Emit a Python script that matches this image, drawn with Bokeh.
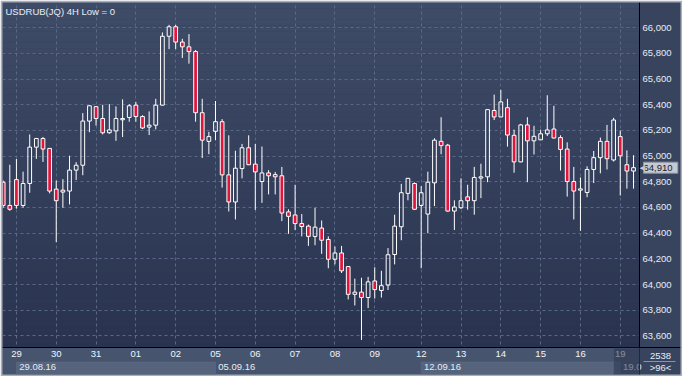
import numpy as np
from bokeh.plotting import figure
from bokeh.models import (Range1d, LinearAxis, FixedTicker, NumeralTickFormatter,
                          BoxAnnotation, Label, ColumnDataSource, Grid)
from bokeh.embed import file_html
from bokeh.resources import INLINE

# ---------------- data ----------------
chart_title = "USDRUB(JQ) 4H Low = 0"

opens = [64797, 64616, 64817, 64616, 64787, 65070, 65137, 65060, 64743, 64735,
         64728, 64891, 64929, 65273, 65385, 65293, 65182, 65196, 65283, 65301,
         65397, 65308, 65226, 65241, 65397, 65933, 66007, 65888, 65851, 65814,
         65338, 65115, 65193, 65268, 64854, 64643, 64903, 65065, 64938, 64802,
         64869, 64856, 64847, 64566, 64542, 64475, 64455, 64375, 64440, 64351,
         64197, 64246, 64140, 63924, 63941, 63899, 64028, 63954, 63996, 64234,
         64450, 64710, 64787, 64616, 64549, 64792, 65115, 65085, 64572, 64598,
         64683, 64653, 64829, 64839, 65355, 65305, 65377, 65162, 64955, 65243,
         65119, 65127, 65174, 65211, 65144, 65055, 64802, 64735, 64717, 64896,
         64988, 65115, 64970, 65152, 64933, 64884]
highs = [64810, 64933, 64978, 64879, 65169, 65142, 65149, 65063, 64810, 64821,
         65003, 64953, 65335, 65395, 65390, 65400, 65405, 65387, 65442, 65405,
         65422, 65318, 65348, 65446, 65963, 66022, 66022, 65913, 65950, 65826,
         65446, 65189, 65429, 65288, 65162, 65042, 65095, 65162, 65095, 65075,
         64891, 64877, 64916, 64586, 64777, 64549, 64467, 64598, 64499, 64375,
         64296, 64301, 64145, 64046, 64053, 64060, 64135, 64107, 64284, 64544,
         64784, 64830, 64795, 64767, 64879, 65139, 65303, 65095, 64656, 64827,
         64777, 64916, 64941, 65365, 65479, 65516, 65446, 65206, 65251, 65303,
         65236, 65206, 65474, 65392, 65162, 65107, 64916, 64834, 64921, 65040,
         65144, 65243, 65298, 65199, 65045, 65007]
lows = [64598, 64574, 64591, 64598, 64715, 64978, 64955, 64710, 64330, 64598,
        64624, 64814, 64851, 65186, 65238, 65169, 65174, 65119, 65149, 65268,
        65268, 65211, 65164, 65208, 65395, 65833, 65833, 65764, 65720, 65268,
        64985, 65015, 65124, 64755, 64569, 64507, 64827, 64930, 64581, 64636,
        64702, 64702, 64494, 64395, 64425, 64375, 64301, 64306, 64239, 64127,
        64157, 64090, 63884, 63837, 63569, 63817, 63891, 63899, 63958, 64157,
        64345, 64656, 64580, 64127, 64400, 64611, 65015, 64568, 64425, 64589,
        64583, 64544, 64673, 64797, 65281, 65303, 65074, 64871, 64952, 64797,
        65013, 65125, 65156, 65138, 64888, 64685, 64507, 64418, 64680, 64790,
        64866, 64896, 64958, 64693, 64747, 64747]
closes = [64616, 64586, 64616, 64787, 65070, 65137, 65055, 64728, 64653, 64720,
          64891, 64929, 65273, 65392, 65293, 65182, 65204, 65293, 65293, 65392,
          65308, 65219, 65241, 65397, 65933, 66007, 65888, 65851, 65814, 65338,
          65124, 65152, 65268, 64854, 64643, 64906, 65065, 64933, 64877, 64869,
          64847, 64839, 64557, 64531, 64475, 64452, 64375, 64447, 64345, 64197,
          64246, 64107, 63924, 63941, 63899, 64021, 63961, 63991, 64232, 64455,
          64715, 64827, 64586, 64715, 64797, 65124, 65082, 64572, 64604, 64653,
          64653, 64834, 64839, 65362, 65305, 65422, 65164, 64955, 65243, 65119,
          65154, 65174, 65204, 65141, 65052, 64802, 64728, 64745, 64896, 64988,
          65115, 64980, 65281, 65003, 64884, 64910]

day_labels = ["29", "30", "31", "01", "02", "05", "06", "07", "08", "09",
              "12", "13", "14", "15", "16", "19"]
day_bar = [3, 9, 15, 21, 27, 33, 39, 45, 51, 57, 64, 70, 76, 82, 88, 94]
week_labels = ["29.08.16", "05.09.16", "12.09.16", "19.0"]
week_bar = [3, 33, 64, 94]
price_ticks = [63600, 63800, 64000, 64200, 64400, 64600, 64800,
               65000, 65200, 65400, 65600, 65800, 66000]
last_price = 64910
last_price_text = "64,910"
total_bars_text = "2538"
visible_bars_text = ">96<"

# ---------------- layout / styles ----------------
W, H = 682, 376
B = 2                      # outer frame border
RP, BP = 41, 27            # right price panel width, bottom time panel height
PW = W - 2 * B - RP        # price-plot width in px
PH = H - 2 * B - BP        # price-plot height in px
FONT = "Liberation Sans"
RED = "#e0143c"
TXT = "#e6edf7"
PANEL = "#38435e"
BOTTOM_PANEL = "#47546d"
GRID = "#5a6886"
FS = "9.5px"

o = np.array(opens, float); c = np.array(closes, float)
hi = np.array(highs, float); lo = np.array(lows, float)
bars = np.arange(1, len(o) + 1)
btop = np.maximum(o, c); bbot = np.minimum(o, c)
down = c < o

x0, x1 = 0.9, 96.9          # visible bar window
y0, y1 = 63510, 66196       # visible price window
dx = (x1 - x0) / PW
dy = (y1 - y0) / PH
xe = x1 + RP * dx           # frame extends over the price panel
ye = y0 - BP * dy           # ...and over the time panel

p = figure(width=W, height=H, output_backend="svg", toolbar_location=None,
           x_range=Range1d(x0, xe), y_range=Range1d(ye, y1),
           x_axis_type=None, y_axis_type=None,
           min_border_left=B, min_border_top=B, min_border_right=B, min_border_bottom=B)
p.border_fill_color = "#a7afbc"
p.background_fill_color = "#343f5b"
p.outline_line_color = None

# gradient background strips of the price area
top_rgb = np.array([63, 76, 103]); bot_rgb = np.array([41, 51, 79])
N = 60
edges = np.linspace(y1, y0, N + 1)
for k in range(N):
    t = (k + 0.5) / N
    col = top_rgb * (1 - t) + bot_rgb * t
    hexcol = "#%02x%02x%02x" % tuple(int(round(v)) for v in col)
    p.add_layout(BoxAnnotation(left=x0, right=x1, top=edges[k], bottom=edges[k + 1],
                               fill_color=hexcol, fill_alpha=1, line_color=None,
                               level="image"))

# grid
for dim, ticks in ((0, day_bar), (1, price_ticks)):
    g = Grid(dimension=dim, ticker=FixedTicker(ticks=ticks), grid_line_color=GRID,
             grid_line_dash="3 3", grid_line_width=1)
    p.add_layout(g)

# panels (cover the grid outside the price area)
p.add_layout(BoxAnnotation(left=x1, right=xe, top=y1, bottom=ye, fill_color=PANEL,
                           fill_alpha=1, line_color=None, level="underlay"))
p.add_layout(BoxAnnotation(left=x0, right=x1, top=y0, bottom=ye, fill_color=BOTTOM_PANEL,
                           fill_alpha=1, line_color=None, level="underlay"))
for a, b in ((week_bar[0], week_bar[1]), (week_bar[2], week_bar[3])):
    p.add_layout(BoxAnnotation(left=a, right=b, top=y0 - 14.5 * dy, bottom=ye,
                               fill_color="#55637c", fill_alpha=1,
                               line_color="#6c7993", line_width=1, level="underlay"))

# right price axis (drawn at the edge of the price area)
ya = LinearAxis(fixed_location=x1, ticker=FixedTicker(ticks=price_ticks),
                formatter=NumeralTickFormatter(format="0,0"))
ya.major_tick_out = 0; ya.major_tick_in = 0
ya.minor_tick_out = 0; ya.minor_tick_in = 0
ya.axis_line_color = "black"
ya.major_label_standoff = 3
ya.major_label_text_color = TXT
ya.major_label_text_font = FONT
ya.major_label_text_font_size = FS
p.add_layout(ya, "right")

# bottom day axis
xa = LinearAxis(fixed_location=y0, ticker=FixedTicker(ticks=day_bar),
                major_label_overrides={b: t for b, t in zip(day_bar, day_labels)})
xa.major_tick_out = 0; xa.major_tick_in = 0
xa.minor_tick_out = 0; xa.minor_tick_in = 0
xa.axis_line_color = "black"
xa.major_label_standoff = 3
xa.major_label_text_color = "#f2f5fa"
xa.major_label_text_font = FONT
xa.major_label_text_font_size = FS
p.add_layout(xa, "below")

# bottom date axis (week starts)
week_pos = [b + (1.8 if t == week_labels[-1] else 3.2) for b, t in zip(week_bar, week_labels)]
da = LinearAxis(fixed_location=y0 - 14 * dy, ticker=FixedTicker(ticks=week_pos),
                major_label_overrides={pp: t for pp, t in zip(week_pos, week_labels)})
da.major_tick_out = 0; da.major_tick_in = 0
da.minor_tick_out = 0; da.minor_tick_in = 0
da.axis_line_color = None
da.major_label_standoff = 2
da.major_label_text_color = TXT
da.major_label_text_font = FONT
da.major_label_text_font_size = FS
p.add_layout(da, "below")

# candles
src = ColumnDataSource(dict(x=bars, o=o, c=c, hi=hi, lo=lo, btop=btop, bbot=bbot,
                            fill=[RED if d else "#ffffff" for d in down],
                            falpha=[1.0 if d else 0.0 for d in down]))
p.segment(x0="x", y0="btop", x1="x", y1="hi", source=src, line_color="white", line_width=1)
p.segment(x0="x", y0="lo", x1="x", y1="bbot", source=src, line_color="white", line_width=1)
p.vbar(x="x", width=0.56, top="btop", bottom="bbot", source=src,
       fill_color="fill", fill_alpha="falpha", line_color="white", line_width=1)

# shaded, still-forming day in the time panel
p.add_layout(BoxAnnotation(left=week_bar[3] - 1, right=x1, top=y0 - 0.6 * dy, bottom=ye,
                           fill_color="#2a344e", fill_alpha=0.55,
                           line_color="#5b6882", line_width=1, level="overlay"))

# title
p.add_layout(Label(x=x0, y=y1, x_offset=3, y_offset=-3, text=chart_title,
                   text_baseline="top", text_align="left", text_color=TXT,
                   text_font=FONT, text_font_size=FS))

# last price marker on the price axis
p.add_layout(Label(x=x1, y=last_price, x_offset=4, text=" " + last_price_text + " ",
                   text_baseline="middle", text_align="left", text_color="#1b2232",
                   text_font=FONT, text_font_size=FS,
                   background_fill_color="#c5c9d1", border_line_color="#8e96a4"))
p.add_layout(Label(x=x1, y=last_price, x_offset=0, text="\u25c0",
                   text_baseline="middle", text_align="left", text_color="#c5c9d1",
                   text_font="DejaVu Sans", text_font_size="7px"))

# bar counters in the corner
p.add_layout(Label(x=x1, y=y0, x_offset=21, y_offset=-8, text=total_bars_text,
                   text_baseline="middle", text_align="center", text_color=TXT,
                   text_font=FONT, text_font_size=FS))
p.add_layout(BoxAnnotation(left=x1 + 4 * dx, right=x1 + 36 * dx,
                           top=y0 - 13.6 * dy, bottom=y0 - 14.4 * dy,
                           fill_color="#8893a6", fill_alpha=1, line_color=None,
                           level="overlay"))
p.add_layout(Label(x=x1, y=y0, x_offset=21, y_offset=-20, text=visible_bars_text,
                   text_baseline="middle", text_align="center", text_color=TXT,
                   text_font=FONT, text_font_size=FS))

open("out.html", "w").write(file_html(p, INLINE))
